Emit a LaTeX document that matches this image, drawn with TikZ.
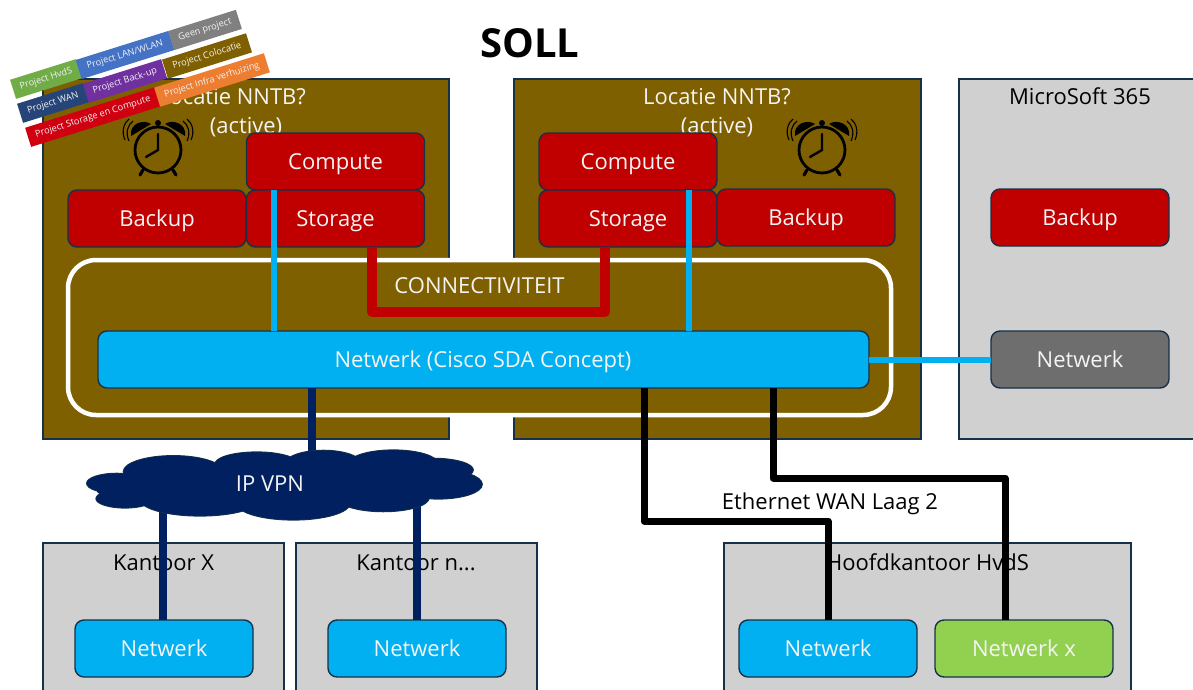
\documentclass[tikz,border=0pt]{standalone}
\usepackage{fontspec}
\setmainfont{Open Sans}
\usetikzlibrary{shapes.geometric}
\definecolor{olive}{HTML}{7F6000}
\definecolor{dred}{HTML}{C00000}
\definecolor{sky}{HTML}{00B0F0}
\definecolor{navy}{HTML}{002060}
\definecolor{panel}{HTML}{D0D0D0}
\definecolor{edge}{HTML}{16324A}
\definecolor{slate}{HTML}{6E6E6E}
\definecolor{lime}{HTML}{92D050}
\definecolor{offw}{HTML}{F4F4F4}
\definecolor{pgreen}{HTML}{70AD47}
\definecolor{pblue}{HTML}{4472C4}
\definecolor{pgrey}{HTML}{808080}
\definecolor{pnavy}{HTML}{264478}
\definecolor{ppurple}{HTML}{7030A0}
\definecolor{pred}{HTML}{D00010}
\definecolor{porange}{HTML}{ED7D31}
\tikzset{
 site/.style={draw=edge,line width=1.3pt,fill=#1,inner sep=0,outer sep=0},
 tag/.style={inner sep=0,outer sep=0,text=#1,text height=16pt,text depth=0pt,font=\fontsize{22}{26}\selectfont},
 unit/.style={draw=edge,line width=1.4pt,fill=#1,rounded corners=9pt,minimum width=178pt,minimum height=57pt,inner sep=0,outer sep=0,text=offw,text height=16pt,text depth=0pt,font=\fontsize{22}{26}\selectfont},
 proj/.style={fill=#1,rotate=17.4,minimum height=20pt,inner sep=0,outer sep=0,text=offw,font=\fontsize{9.2}{11}\selectfont},
 pipe/.style={line width=#1,line join=round},
 lobe/.style={draw=edge,line width=1.2pt,fill=navy},
 lobein/.style={fill=navy},
 alarm/.pic={
  \draw[line width=2.8pt] (0,0) circle (23);
  \draw[line width=2.4pt,line cap=round] (-12,7) -- (0,0) -- (0,-16);
  \fill (-27,-14) .. controls (-29,-27) and (-14,-31) .. (-7,-26) -- cycle;
  \fill (27,-14) .. controls (29,-27) and (14,-31) .. (7,-26) -- cycle;
  \draw[line width=2pt] (0,-23) -- (0,-27);
  \fill (0,-27) circle (3);
  \draw[line width=3.2pt,line cap=round] (-15,20) -- (-18,25);
  \draw[line width=3.2pt,line cap=round] (15,20) -- (18,25);
  \draw[line width=1.1pt] (-29,-9) .. controls (-33,-18) and (-30,-25) .. (-25,-29);
  \draw[line width=1.1pt] (-33,-10) .. controls (-37,-19) and (-34,-27) .. (-29,-31);
  \draw[line width=1.1pt] (29,-9) .. controls (33,-18) and (30,-25) .. (25,-29);
  \draw[line width=1.1pt] (33,-10) .. controls (37,-19) and (34,-27) .. (29,-31);
 }
}
\begin{document}
\begin{tikzpicture}[x=1pt,y=-1pt]
\useasboundingbox (0,0) rectangle (1193,690);
\clip (0,0) rectangle (1193,690);

% panels
\node[site=olive,minimum width=406pt,minimum height=360pt] (locL) at (246,259) {};
\node[site=olive,minimum width=407pt,minimum height=360pt] (locR) at (717.5,259) {};
\node[site=panel,minimum width=260pt,minimum height=360pt] (ms) at (1089,259) {};
\node[site=panel,minimum width=241pt,minimum height=180pt] (kx) at (163.5,633) {};
\node[site=panel,minimum width=241pt,minimum height=180pt] (kn) at (416.5,633) {};
\node[site=panel,minimum width=407pt,minimum height=180pt] (hk) at (927.5,633) {};

% panel titles
\node[tag=offw] (tL1) at (232,97) {Locatie NNTB?};
\node[tag=offw] (tL2) at (246,126) {(active)};
\node[tag=offw] (tR1) at (717,97) {Locatie NNTB?};
\node[tag=offw] (tR2) at (717,126) {(active)};
\node[tag=black] (tM) at (1080,97) {MicroSoft 365};
\node[tag=black] (tK1) at (163.5,562) {Kantoor X};
\node[tag=black] (tK2) at (416,562) {Kantoor n...};
\node[tag=black] (tH) at (927.5,562) {Hoofdkantoor HvdS};

% connectivity frame
\node[draw=white,fill=olive,line width=4.5pt,rounded corners=28pt,minimum width=823pt,minimum height=155pt,inner sep=0,outer sep=0] (frame) at (479.5,337.5) {};
\node[tag=offw] (conn) at (479.5,285) {CONNECTIVITEIT};

% alarm clocks
\pic (clockL) at (158,150) {alarm};
\pic (clockR) at (822,150) {alarm};

% units
\node[unit=dred] (compL) at (335.5,161.5) {Compute};
\node[unit=dred] (storL) at (335.5,218.5) {Storage};
\node[unit=dred] (backL) at (157,218.5) {Backup};
\node[unit=dred] (compR) at (628,161.5) {Compute};
\node[unit=dred] (storR) at (628,218.5) {Storage};
\node[unit=dred] (backR) at (806,217.5) {Backup};
\node[unit=dred] (backM) at (1080,217.5) {Backup};
\node[unit=slate] (netM) at (1080,359.5) {Netwerk};
\node[unit=sky,minimum width=771pt] (net) at (483.5,359.5) {};
\node[tag=offw] (netT) at (483,359.5) {Netwerk (Cisco SDA Concept)};
\node[unit=sky] (netX) at (164,648.5) {Netwerk};
\node[unit=sky] (netN) at (417,648.5) {Netwerk};
\node[unit=sky] (netH) at (828,648.5) {Netwerk};
\node[unit=lime] (netG) at (1024,648.5) {Netwerk x};

% reference columns for the connectors
\coordinate (cA) at (274,0);
\coordinate (cB) at (689,0);
\coordinate (cC) at (312,0);
\coordinate (cD) at (163,0);
\coordinate (cE) at (417,0);
\coordinate (cF) at (644,521);
\coordinate (cG) at (828,521);
\coordinate (cH) at (773,478);
\coordinate (cI) at (1005,478);
\coordinate (cJ) at (372,312);
\coordinate (cK) at (605,312);
\coordinate (cY) at (0,470);
\coordinate (cZ) at (0,500);

% connectors
\draw[pipe=6pt,sky] (cA |- compL.south) -- (cA |- net.north);
\draw[pipe=6pt,sky] (cB |- compR.south) -- (cB |- net.north);
\draw[pipe=6pt,sky] (net.east) -- (netM.west);
\draw[pipe=9.5pt,dred] (cJ |- storL.south) -- (cJ) -- (cK) -- (cK |- storR.south);
\draw[pipe=7.5pt,navy] (cC |- net.south) -- (cC |- cY);
\draw[pipe=7.5pt,navy] (cD |- cZ) -- (cD |- netX.north);
\draw[pipe=7.5pt,navy] (cE |- cZ) -- (cE |- netN.north);
\draw[pipe=7pt,black] (cF |- net.south) -- (cF) -- (cG) -- (cG |- netH.north);
\draw[pipe=7pt,black] (cH |- net.south) -- (cH) -- (cI) -- (cI |- netG.north);

% cloud
\begin{scope}[shift={(60,400)},x=0.3333pt,y=-0.3333pt]
 \foreach \a/\b/\c/\d in {170/250/90/30,195/296/87/28,340/215/150/48,420/298/180/50,590/192/125/36,700/310/170/50,790/192/115/41,1000/192/135/42,1120/210/120/35,1135/253/132/44,970/293/138/42}
  {\draw[lobe] (\a,\b) ellipse [x radius=\c,y radius=\d];}
 \foreach \a/\b/\c/\d in {170/250/89/29,195/296/86/27,340/215/149/47,420/298/179/49,590/192/124/35,700/310/169/49,790/192/114/40,1000/192/134/41,1120/210/119/34,1135/253/131/43,970/293/137/41,650/250/420/60,220/272/110/25}
  {\fill[lobein] (\a,\b) ellipse [x radius=\c,y radius=\d];}
\end{scope}
\node[tag=offw] (vpn) at (270,483) {IP VPN};

% labels on connectors
\node[tag=black] (eth) at (830,501) {Ethernet WAN Laag 2};

% title
\node[inner sep=0,font=\fontsize{40}{46}\selectfont\bfseries] (soll) at (530,43) {SOLL};

% legend
\node[proj=pgreen,minimum width=69pt] (p1) at (46,79) {Project HvdS};
\node[proj=pblue,minimum width=97pt] (p2) at (125,55) {Project LAN/WLAN};
\node[proj=pgrey,minimum width=71pt] (p3) at (205,30) {Geen project};
\node[proj=pnavy,minimum width=69pt] (p4) at (53,103) {Project WAN};
\node[proj=ppurple,minimum width=82pt] (p5) at (125,81) {Project Back-up};
\node[proj=olive,minimum width=88pt] (p6) at (207,56) {Project Colocatie};
\node[proj=pred,minimum width=136pt] (p7) at (93,117) {Project Storage en Compute};
\node[proj=porange,minimum width=115pt] (p8) at (212,80) {Project Infra verhuizing};
\end{tikzpicture}
\end{document}
